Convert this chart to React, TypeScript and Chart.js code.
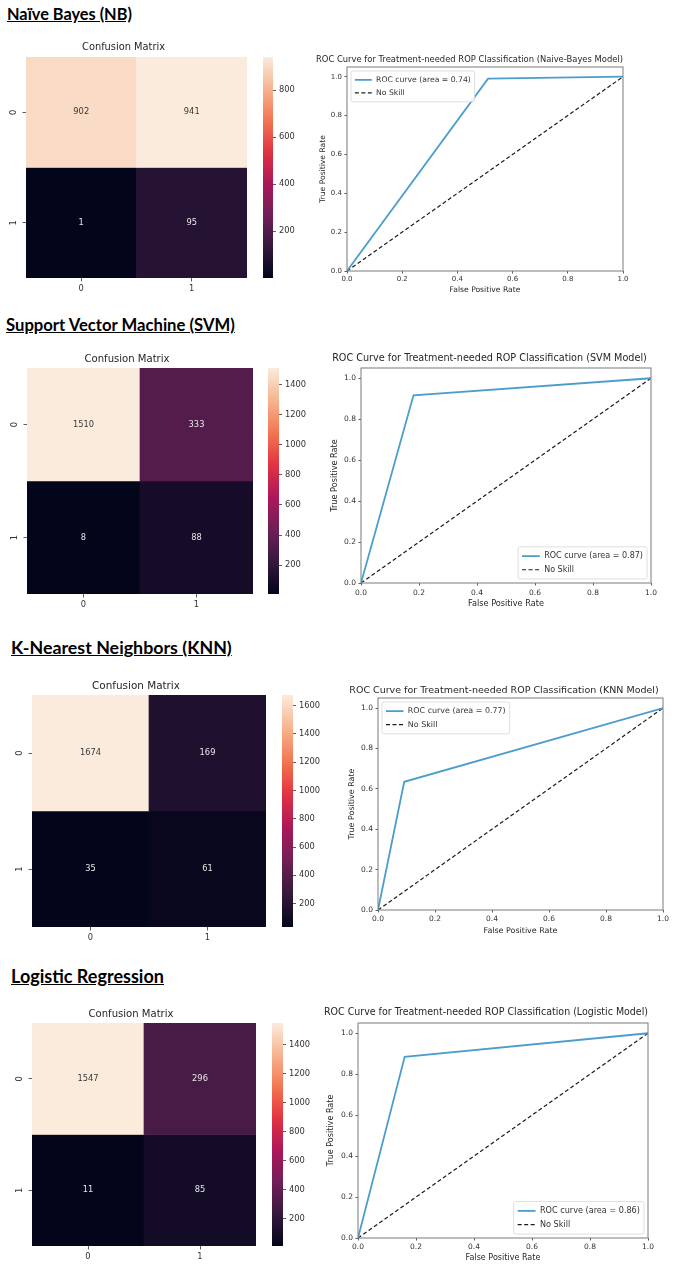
import React, { useEffect, useMemo, useRef } from 'react';
import { Chart, registerables } from 'chart.js';
Chart.register(...registerables);

const FONT = 'DejaVu Sans';
const HEAD_FONT = 'Lato';

// ---------------- data ----------------
const CLASS_LABELS = ['0', '1'];

const NB_CM = [[902, 941], [1, 95]];
const SVM_CM = [[1510, 333], [8, 88]];
const KNN_CM = [[1674, 169], [35, 61]];
const LR_CM = [[1547, 296], [11, 85]];

const NB_CB_TICKS = [200, 400, 600, 800];
const SVM_CB_TICKS = [200, 400, 600, 800, 1000, 1200, 1400];
const KNN_CB_TICKS = [200, 400, 600, 800, 1000, 1200, 1400, 1600];
const LR_CB_TICKS = [200, 400, 600, 800, 1000, 1200, 1400];

const NB_FPR = [0, 0.511, 1];
const NB_TPR = [0, 0.99, 1];
const NB_AUC = '0.74';
const SVM_FPR = [0, 0.181, 1];
const SVM_TPR = [0, 0.917, 1];
const SVM_AUC = '0.87';
const KNN_FPR = [0, 0.092, 1];
const KNN_TPR = [0, 0.635, 1];
const KNN_AUC = '0.77';
const LR_FPR = [0, 0.161, 1];
const LR_TPR = [0, 0.885, 1];
const LR_AUC = '0.86';

const NO_SKILL_X = [0, 1];
const NO_SKILL_Y = [0, 1];
const ROC_TICKS = [0, 0.2, 0.4, 0.6, 0.8, 1.0];

// ---------------- layout (pixel positions, not data) ----------------
const ROWS: any[] = [
  {
    heading: 'Naïve Bayes (NB)', head: { x: 7, base: 20, w: 125 },
    cm: NB_CM, cbTicks: NB_CB_TICKS,
    hm: { x0: 26, y0: 57, x1: 247, y1: 278, titleY: 48, titleW: 83 },
    cb: { x0: 263, x1: 273 },
    roc: { name: 'Naive-Bayes', fpr: NB_FPR, tpr: NB_TPR, auc: NB_AUC },
    rl: { x0: 347, y0: 67, x1: 623, y1: 271, titleY: 59, titleW: 335, yLabX: 323, xLabY: 290, xLabW: 71, tickFs: 7, tickOff: 8, legend: 'tl', legTextW: 95 },
  },
  {
    heading: 'Support Vector Machine (SVM)', head: { x: 6, base: 332, w: 230 },
    cm: SVM_CM, cbTicks: SVM_CB_TICKS,
    hm: { x0: 27, y0: 368, x1: 253, y1: 594, titleY: 359, titleW: 85 },
    cb: { x0: 268, x1: 279 },
    roc: { name: 'SVM', fpr: SVM_FPR, tpr: SVM_TPR, auc: SVM_AUC },
    rl: { x0: 361, y0: 368, x1: 651, y1: 583, titleY: 359, titleW: 315, yLabX: 335, xLabY: 604, xLabW: 76, tickFs: 7.5, tickOff: 10, legend: 'br', legTextW: 99 },
  },
  {
    heading: 'K-Nearest Neighbors (KNN)', head: { x: 11, base: 655, w: 221 },
    cm: KNN_CM, cbTicks: KNN_CB_TICKS,
    hm: { x0: 32, y0: 695, x1: 266, y1: 927, titleY: 686, titleW: 88 },
    cb: { x0: 282, x1: 293 },
    roc: { name: 'KNN', fpr: KNN_FPR, tpr: KNN_TPR, auc: KNN_AUC },
    rl: { x0: 378, y0: 698, x1: 663, y1: 910, titleY: 691, titleW: 310, yLabX: 352, xLabY: 931, xLabW: 74, tickFs: 7.5, tickOff: 9, legend: 'tl', legTextW: 98 },
  },
  {
    heading: 'Logistic Regression', head: { x: 11, base: 983, w: 153 },
    cm: LR_CM, cbTicks: LR_CB_TICKS,
    hm: { x0: 32, y0: 1023, x1: 256, y1: 1246, titleY: 1014, titleW: 85 },
    cb: { x0: 272, x1: 283 },
    roc: { name: 'Logistic', fpr: LR_FPR, tpr: LR_TPR, auc: LR_AUC },
    rl: { x0: 358, y0: 1023, x1: 648, y1: 1238, titleY: 1013, titleW: 332, yLabX: 331, xLabY: 1258, xLabW: 75, tickFs: 7.5, tickOff: 9, legend: 'br', legTextW: 100 },
  },
];

// ---------------- helpers ----------------
let measureCtx: any = null;
function fit(text: string, width: number, family = FONT, weight = 'normal') {
  if (!measureCtx) measureCtx = document.createElement('canvas').getContext('2d');
  measureCtx.font = `${weight} 100px "${family}"`;
  return (100 * width) / measureCtx.measureText(text).width;
}

const ROCKET: [number, number[]][] = [
  [0, [3, 5, 26]],
  [0.143, [53, 25, 62]],
  [0.286, [112, 31, 87]],
  [0.429, [173, 23, 89]],
  [0.571, [225, 51, 66]],
  [0.714, [243, 118, 81]],
  [0.857, [246, 180, 143]],
  [1, [250, 235, 221]],
];
function rocket(t: number) {
  t = Math.max(0, Math.min(1, t));
  for (let i = 1; i < ROCKET.length; i++) {
    const [p1, c1] = ROCKET[i];
    const [p0, c0] = ROCKET[i - 1];
    if (t <= p1) {
      const f = (t - p0) / (p1 - p0);
      return c0.map((v, k) => Math.round(v + (c1[k] - v) * f));
    }
  }
  return ROCKET[ROCKET.length - 1][1];
}
const rgb = (c: number[]) => `rgb(${c[0]},${c[1]},${c[2]})`;
function lum(c: number[]) {
  const l = c.map((v) => {
    const s = v / 255;
    return s <= 0.03928 ? s / 12.92 : Math.pow((s + 0.055) / 1.055, 2.4);
  });
  return 0.2126 * l[0] + 0.7152 * l[1] + 0.0722 * l[2];
}

const cellTextPlugin = {
  id: 'cellText',
  afterDatasetsDraw(chart: any, _a: any, opts: any) {
    if (!opts || !opts.fontSize) return;
    const ctx = chart.ctx;
    ctx.save();
    ctx.font = `${opts.fontSize}px "${FONT}"`;
    ctx.textAlign = 'center';
    ctx.textBaseline = 'middle';
    chart.data.datasets.forEach((ds: any, di: number) => {
      const meta = chart.getDatasetMeta(di);
      meta.data.forEach((el: any, i: number) => {
        const p = el.getProps(['x', 'y', 'base'], true);
        ctx.fillStyle = lum(ds.cellColors[i]) > 0.408 ? '#3a3a3a' : '#e6e6e6';
        ctx.fillText(String(ds.counts[i]), p.x, (p.y + p.base) / 2);
      });
    });
    ctx.restore();
  },
};

const framePlugin = {
  id: 'frame',
  afterDatasetsDraw(chart: any, _a: any, opts: any) {
    if (!opts || !opts.color) return;
    const { ctx, chartArea: ca } = chart;
    ctx.save();
    ctx.strokeStyle = opts.color;
    ctx.lineWidth = opts.width;
    ctx.strokeRect(ca.left, ca.top, ca.right - ca.left, ca.bottom - ca.top);
    ctx.restore();
  },
};

const insideLegendPlugin = {
  id: 'insideLegend',
  afterDraw(chart: any, _a: any, opts: any) {
    if (!opts || !opts.corner) return;
    const { ctx, chartArea: ca } = chart;
    const fs = opts.fontSize;
    ctx.save();
    ctx.font = `${fs}px "${FONT}"`;
    const items = chart.data.datasets;
    const lineLen = fs * 2.2, gap = fs * 0.55, padX = fs * 0.5, padY = fs * 0.3, rowH = fs * 1.7;
    const textW = Math.max(...items.map((d: any) => ctx.measureText(d.label).width));
    const bw = padX * 2 + lineLen + gap + textW;
    const bh = padY * 2 + rowH * items.length;
    const off = 4;
    const bx = opts.corner === 'tl' ? ca.left + off : ca.right - off - bw;
    const by = opts.corner === 'tl' ? ca.top + off : ca.bottom - off - bh;
    ctx.beginPath();
    if (ctx.roundRect) ctx.roundRect(bx, by, bw, bh, 2);
    else ctx.rect(bx, by, bw, bh);
    ctx.fillStyle = 'rgba(255,255,255,0.85)';
    ctx.fill();
    ctx.strokeStyle = '#d6d6d6';
    ctx.lineWidth = 0.8;
    ctx.stroke();
    items.forEach((d: any, i: number) => {
      const yy = by + padY + rowH * (i + 0.5);
      ctx.beginPath();
      ctx.setLineDash(d.borderDash || []);
      ctx.strokeStyle = d.borderColor;
      ctx.lineWidth = d.borderWidth;
      ctx.moveTo(bx + padX, yy);
      ctx.lineTo(bx + padX + lineLen, yy);
      ctx.stroke();
      ctx.setLineDash([]);
      ctx.fillStyle = '#333';
      ctx.textBaseline = 'middle';
      ctx.textAlign = 'left';
      ctx.fillText(d.label, bx + padX + lineLen + gap, yy);
    });
    ctx.restore();
  },
};

const TICK_COLOR = '#333';
const TEXT_COLOR = '#262626';

function heatmapSetup(row: any) {
  const L = row.hm;
  const cm: number[][] = row.cm;
  const HL = 26, XH = 22;
  const title = 'Confusion Matrix';
  const ts = fit(title, L.titleW);
  const lhT = ts * 1.2;
  const y = Math.round(L.titleY - lhT / 2);
  const x = L.x0 - HL;
  const w = L.x1 - L.x0 + 2 * HL;
  const h = L.y1 - y + XH;
  const all = cm.reduce((a: number[], r) => a.concat(r), []);
  const vmin = Math.min(...all), vmax = Math.max(...all);
  const fs = 8.3;
  const config: any = {
    type: 'bar',
    data: {
      labels: CLASS_LABELS,
      datasets: cm.map((r, ri) => {
        const colors = r.map((v) => rocket((v - vmin) / (vmax - vmin)));
        return {
          data: r.map(() => [ri, ri + 1]),
          counts: r,
          cellColors: colors,
          backgroundColor: colors.map(rgb),
          grouped: false,
          barPercentage: 1,
          categoryPercentage: 1,
          borderWidth: 0,
        };
      }),
    },
    options: {
      responsive: false,
      animation: false,
      events: [],
      layout: { padding: { left: 0, right: HL, top: 0, bottom: 0 } },
      plugins: {
        legend: { display: false },
        tooltip: { enabled: false },
        title: {
          display: true, text: title, color: TEXT_COLOR,
          font: { family: FONT, size: ts, weight: 'normal', lineHeight: 1.2 },
          padding: { top: 0, bottom: L.y0 - y - lhT },
        },
        cellText: { fontSize: fs },
      },
      scales: {
        x: {
          type: 'category',
          afterFit: (s: any) => { s.height = XH; },
          grid: { display: true, drawOnChartArea: false, drawTicks: true, tickLength: 3.5, offset: false, color: TICK_COLOR, lineWidth: 0.8 },
          border: { display: false },
          ticks: { color: TICK_COLOR, font: { family: FONT, size: fs }, padding: 2.5, maxRotation: 0 },
        },
        y: {
          type: 'linear', reverse: true, min: 0, max: 2,
          afterFit: (s: any) => { s.width = HL; },
          afterBuildTicks: (a: any) => { a.ticks = CLASS_LABELS.map((_, i) => ({ value: i + 0.5 })); },
          grid: { display: true, drawOnChartArea: false, drawTicks: true, tickLength: 3.5, color: TICK_COLOR, lineWidth: 0.8 },
          border: { display: false },
          ticks: {
            color: TICK_COLOR, font: { family: FONT, size: fs }, padding: 6.5,
            minRotation: 90, maxRotation: 90, crossAlign: 'center',
            callback: (v: any) => CLASS_LABELS[Math.floor(Number(v))],
          },
        },
      },
    },
    plugins: [cellTextPlugin],
  };
  return { rect: { x, y, w, h }, config };
}

function colorbarSetup(row: any) {
  const L = row.hm, C = row.cb;
  const all = row.cm.reduce((a: number[], r: number[]) => a.concat(r), []);
  const vmin = Math.min(...all), vmax = Math.max(...all);
  const RW = 40, PAD = 10;
  const rect = { x: C.x0, y: L.y0 - PAD, w: C.x1 - C.x0 + RW, h: L.y1 - L.y0 + 2 * PAD };
  const ticks: number[] = row.cbTicks;
  const config: any = {
    type: 'bar',
    data: {
      labels: [''],
      datasets: [{
        data: [[vmin, vmax]],
        backgroundColor: (ctx: any) => {
          const ch = ctx.chart;
          const ca = ch.chartArea;
          if (!ca) return '#000';
          const g = ch.ctx.createLinearGradient(0, ca.bottom, 0, ca.top);
          ROCKET.forEach(([p, c]) => g.addColorStop(p, rgb(c)));
          return g;
        },
        barPercentage: 1,
        categoryPercentage: 1,
        borderWidth: 0,
      }],
    },
    options: {
      responsive: false,
      animation: false,
      events: [],
      layout: { padding: { left: 0, right: 0, top: PAD, bottom: PAD } },
      plugins: { legend: { display: false }, tooltip: { enabled: false } },
      scales: {
        x: { display: false },
        y: {
          position: 'right', min: vmin, max: vmax,
          afterFit: (s: any) => { s.width = RW; },
          afterBuildTicks: (a: any) => { a.ticks = ticks.map((v) => ({ value: v })); },
          grid: { display: true, drawOnChartArea: false, drawTicks: true, tickLength: 3, color: TICK_COLOR, lineWidth: 0.8 },
          border: { display: false },
          ticks: { color: TICK_COLOR, font: { family: FONT, size: 8.3 }, padding: 3, callback: (v: any) => String(v) },
        },
      },
    },
  };
  return { rect, config };
}

function rocSetup(row: any) {
  const d = row.roc, L = row.rl;
  const title = `ROC Curve for Treatment-needed ROP Classification (${d.name} Model)`;
  const ts = fit(title, L.titleW);
  const lhT = ts * 1.2;
  const ls = fit('False Positive Rate', L.xLabW);
  const lhL = ls * 1.2;
  const leftW = L.x0 - (L.yLabX - 7);
  const y = Math.round(L.titleY - lhT / 2);
  const bottom = L.xLabY + 7;
  const XH = bottom - L.y1;
  const rect = { x: L.x0 - leftW, y, w: L.x1 - L.x0 + 2 * leftW, h: bottom - y };
  const tfs = L.tickFs;
  const legFs = fit(`ROC curve (area = ${d.auc})`, L.legTextW);
  const config: any = {
    type: 'scatter',
    data: {
      datasets: [
        {
          label: `ROC curve (area = ${d.auc})`,
          data: d.fpr.map((x: number, i: number) => ({ x, y: d.tpr[i] })),
          showLine: true, borderColor: '#4b9dcc', backgroundColor: '#4b9dcc',
          borderWidth: 1.8, pointRadius: 0, tension: 0,
        },
        {
          label: 'No Skill',
          data: NO_SKILL_X.map((x, i) => ({ x, y: NO_SKILL_Y[i] })),
          showLine: true, borderColor: '#1c1c1c', backgroundColor: '#1c1c1c',
          borderWidth: 1.2, borderDash: [4, 2.5], pointRadius: 0,
        },
      ],
    },
    options: {
      responsive: false,
      animation: false,
      events: [],
      layout: { padding: { left: 0, right: leftW, top: 0, bottom: 0 } },
      plugins: {
        legend: { display: false },
        tooltip: { enabled: false },
        title: {
          display: true, text: title, color: TEXT_COLOR,
          font: { family: FONT, size: ts, weight: 'normal', lineHeight: 1.2 },
          padding: { top: 0, bottom: L.y0 - y - lhT },
        },
        frame: { color: '#7a7a7a', width: 1 },
        insideLegend: { corner: L.legend, fontSize: legFs },
      },
      scales: {
        x: {
          type: 'linear', min: 0, max: 1,
          afterFit: (s: any) => { s.height = XH; },
          afterBuildTicks: (a: any) => { a.ticks = ROC_TICKS.map((v) => ({ value: v })); },
          grid: { display: true, drawOnChartArea: false, drawTicks: true, tickLength: 2.5, color: TICK_COLOR, lineWidth: 0.8 },
          border: { display: false },
          ticks: { color: TICK_COLOR, font: { family: FONT, size: tfs }, padding: L.tickOff - 2.5 - (tfs * 1.2) / 2, maxRotation: 0, callback: (v: any) => Number(v).toFixed(1) },
          title: { display: true, text: 'False Positive Rate', color: TEXT_COLOR, font: { family: FONT, size: ls, lineHeight: 1.2 }, padding: { top: 0, bottom: 7 - lhL / 2 } },
        },
        y: {
          type: 'linear', min: 0, max: 1.05,
          afterFit: (s: any) => { s.width = leftW; },
          afterBuildTicks: (a: any) => { a.ticks = ROC_TICKS.map((v) => ({ value: v })); },
          grid: { display: true, drawOnChartArea: false, drawTicks: true, tickLength: 2.5, color: TICK_COLOR, lineWidth: 0.8 },
          border: { display: false },
          ticks: { color: TICK_COLOR, font: { family: FONT, size: tfs }, padding: 2.5, callback: (v: any) => Number(v).toFixed(1) },
          title: { display: true, text: 'True Positive Rate', color: TEXT_COLOR, font: { family: FONT, size: ls, lineHeight: 1.2 }, padding: { top: 7 - lhL / 2, bottom: 0 } },
        },
      },
    },
    plugins: [framePlugin, insideLegendPlugin],
  };
  return { rect, config };
}

function ChartBox({ setup }: { setup: any }) {
  const ref = useRef<HTMLCanvasElement | null>(null);
  useEffect(() => {
    const chart = new Chart(ref.current as HTMLCanvasElement, setup.config);
    return () => chart.destroy();
  }, [setup]);
  const { x, y, w, h } = setup.rect;
  const W = Math.round(w), H = Math.round(h);
  return (
    <canvas
      ref={ref}
      width={W}
      height={H}
      style={{ position: 'absolute', left: Math.round(x), top: Math.round(y), width: W, height: H }}
    />
  );
}

function Heading({ text, head }: { text: string; head: any }) {
  const fs = fit(text, head.w, HEAD_FONT, 'bold');
  return (
    <div
      style={{
        position: 'absolute', left: head.x, top: head.base - 0.887 * fs,
        fontFamily: `${HEAD_FONT}, sans-serif`, fontWeight: 700, fontSize: fs,
        lineHeight: `${fs}px`, textDecoration: 'underline', whiteSpace: 'nowrap', color: '#000',
      }}
    >
      {text}
    </div>
  );
}

export default function App() {
  const setups = useMemo(
    () => ROWS.map((r) => ({ hm: heatmapSetup(r), cb: colorbarSetup(r), roc: rocSetup(r) })),
    []
  );
  return (
    <div style={{ position: 'absolute', left: 0, top: 0, width: 684, height: 1270, overflow: 'hidden', background: '#fff' }}>
      {ROWS.map((r, i) => (
        <React.Fragment key={i}>
          <Heading text={r.heading} head={r.head} />
          <ChartBox setup={setups[i].hm} />
          <ChartBox setup={setups[i].cb} />
          <ChartBox setup={setups[i].roc} />
        </React.Fragment>
      ))}
    </div>
  );
}
